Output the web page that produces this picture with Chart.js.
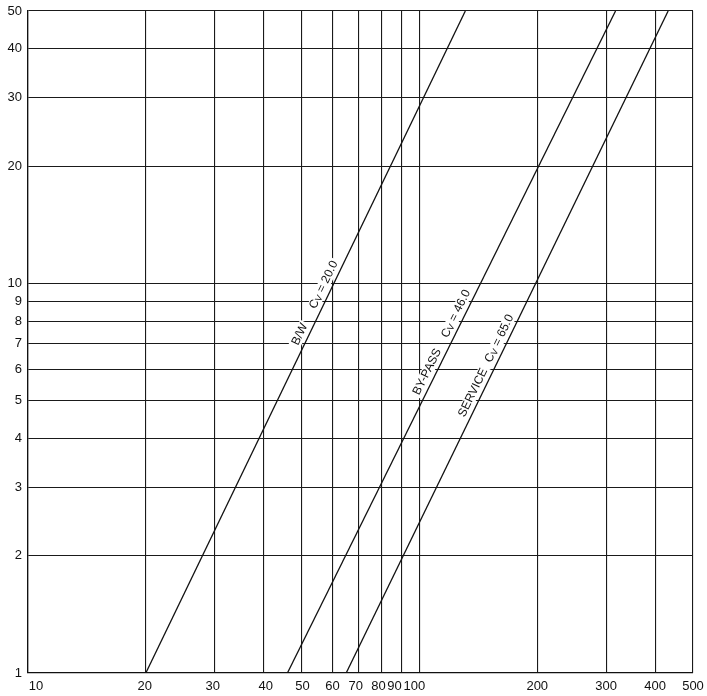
<!DOCTYPE html>
<html>
<head>
<meta charset="utf-8">
<script src="https://cdn.jsdelivr.net/npm/chart.js@4/dist/chart.umd.min.js"></script>
<style>
  html, body { margin: 0; padding: 0; background: #fff; }
  #wrap { width: 707px; height: 696px; }
</style>
</head>
<body>
<div id="wrap"><canvas id="cvChart" width="707" height="696"></canvas></div>
<script>
(function () {
    // tick values on both log axes
    var xTicks = [10, 20, 30, 40, 50, 60, 70, 80, 90, 100, 200, 300, 400, 500];
    var yTicks = [1, 2, 3, 4, 5, 6, 7, 8, 9, 10, 20, 30, 40, 50];

    // line end points (x at y = 1 and at y = 50)
    var bwX = [20, 131],      bwY = [1, 50];
    var bypassX = [46, 317],  bypassY = [1, 50];
    var serviceX = [65, 432], serviceY = [1, 50];

    var seriesNames = ["B/W", "BY-PASS", "SERVICE"];
    var cvValues = ["20.0", "46.0", "65.0"];
    // y value along each line where the name and the Cv text sit
    var nameAt = [7.24, 5.8, 5.13];
    var cvAt = [9.7, 8.17, 7.06];

    var fontFamily = "'Liberation Sans', Arial, sans-serif";
    // the crowded x labels are nudged sideways in the original, px
    var xLabelNudge = [8, -1, -2, 2, 1, 0, -3, -3, -7, -5, 0, 0, 0, 0];

    function toPoints(xs, ys) {
        return xs.map(function (x, i) { return { x: x, y: ys[i] }; });
    }

    function lineSet(xs, ys) {
        return {
            data: toPoints(xs, ys),
            showLine: true,
            borderColor: "#111",
            borderWidth: 1.3,
            pointRadius: 0,
            fill: false
        };
    }

    // x on the line (log-log straight) for a given y
    function xOnLine(pts, y) {
        var t = (Math.log(y) - Math.log(pts[0].y)) / (Math.log(pts[1].y) - Math.log(pts[0].y));
        return Math.exp(Math.log(pts[0].x) + t * (Math.log(pts[1].x) - Math.log(pts[0].x)));
    }

    // draws "C" with a small subscript v then the rest
    function drawPiece(ctx, parts, cx, cy, angle) {
        var big = "12px " + fontFamily, small = "9px " + fontFamily;
        var widths = parts.map(function (p) {
            ctx.font = p.sub ? small : big;
            return ctx.measureText(p.t).width;
        });
        var total = widths.reduce(function (a, b) { return a + b; }, 0);
        ctx.save();
        ctx.translate(cx, cy);
        ctx.rotate(angle);
        ctx.fillStyle = "#fff";
        ctx.fillRect(-total / 2 - 2, -6, total + 4, 12);
        ctx.fillStyle = "#111";
        ctx.textBaseline = "middle";
        ctx.textAlign = "left";
        var x = -total / 2;
        parts.forEach(function (p, i) {
            ctx.font = p.sub ? small : big;
            ctx.fillText(p.t, x, p.sub ? 2 : 0);
            x += widths[i];
        });
        ctx.restore();
    }

    var lineLabels = {
        id: "lineLabels",
        afterDatasetsDraw: function (chart) {
            var ctx = chart.ctx,
                xs = chart.scales.x,
                ys = chart.scales.y,
                gap = 8.5;
            chart.data.datasets.forEach(function (ds, i) {
                var pts = ds.data;
                var p0x = xs.getPixelForValue(pts[0].x), p0y = ys.getPixelForValue(pts[0].y);
                var p1x = xs.getPixelForValue(pts[1].x), p1y = ys.getPixelForValue(pts[1].y);
                var angle = Math.atan2(p1y - p0y, p1x - p0x);
                // unit normal pointing up-left of the line
                var nx = Math.sin(angle), ny = -Math.cos(angle);

                function place(yVal, parts) {
                    var ax = xs.getPixelForValue(xOnLine(pts, yVal));
                    var ay = ys.getPixelForValue(yVal);
                    drawPiece(ctx, parts, ax + gap * nx, ay + gap * ny, angle);
                }

                place(nameAt[i], [{ t: seriesNames[i] }]);
                place(cvAt[i], [{ t: "C" }, { t: "V", sub: true }, { t: " = " + cvValues[i] }]);
            });

            // x tick labels, drawn here so the crowded ones can be nudged
            var bottom = chart.chartArea.bottom;
            ctx.save();
            ctx.font = "13px " + fontFamily;
            ctx.fillStyle = "#111";
            ctx.textAlign = "center";
            ctx.textBaseline = "top";
            xTicks.forEach(function (v, i) {
                ctx.fillText(String(v), xs.getPixelForValue(v) + xLabelNudge[i], bottom + 7);
            });
            ctx.restore();
        }
    };

    function axisTicks(list) {
        return function (scale) {
            scale.ticks = list.map(function (v) { return { value: v }; });
        };
    }

    var tickFont = { size: 13, family: fontFamily };

    new Chart(document.getElementById("cvChart").getContext("2d"), {
        type: "scatter",
        data: {
            datasets: [
                lineSet(bwX, bwY),
                lineSet(bypassX, bypassY),
                lineSet(serviceX, serviceY)
            ]
        },
        options: {
            responsive: false,
            animation: false,
            layout: { padding: { top: 11, right: 14, left: 0, bottom: 0 } },
            plugins: {
                legend: { display: false },
                tooltip: { enabled: false }
            },
            scales: {
                x: {
                    type: "logarithmic",
                    min: 10,
                    max: 500,
                    afterBuildTicks: axisTicks(xTicks),
                    afterFit: function (s) {
                        s.height = 23;
                        s.paddingLeft = 0;
                        s.paddingRight = 0;
                    },
                    ticks: { display: false, autoSkip: false },
                    grid: { color: "#1a1a1a", lineWidth: 1.1, drawTicks: false },
                    border: { color: "#111", width: 1.3 }
                },
                y: {
                    type: "logarithmic",
                    min: 1,
                    max: 50,
                    afterBuildTicks: axisTicks(yTicks),
                    afterFit: function (s) {
                        s.width = 28;
                        s.paddingTop = 0;
                        s.paddingBottom = 0;
                    },
                    ticks: {
                        callback: function (v) { return String(v); },
                        autoSkip: false,
                        color: "#111",
                        font: tickFont,
                        padding: 6
                    },
                    grid: { color: "#1a1a1a", lineWidth: 1.1, drawTicks: false },
                    border: { color: "#111", width: 1.3 }
                }
            }
        },
        plugins: [lineLabels]
    });
})();
</script>
</body>
</html>
